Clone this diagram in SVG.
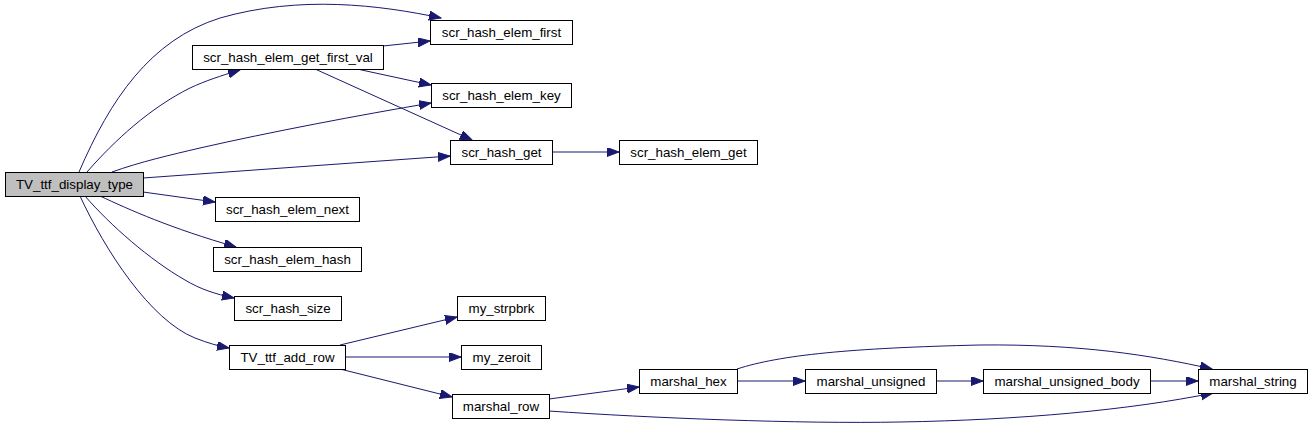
<svg xmlns="http://www.w3.org/2000/svg" width="1312" height="428" viewBox="0 0 1312 428">
<style>
.n rect{fill:#ffffff;stroke:#000000;stroke-width:1}
.n.main rect{fill:#bfbfbf}
.n text{font-family:"Liberation Sans",Helvetica,Arial,sans-serif;font-size:13.33px;fill:#000000;text-anchor:middle}
.e path{fill:none;stroke:#191970;stroke-width:1;marker-end:url(#ah)}
</style>
<defs>
<marker id="ah" markerUnits="userSpaceOnUse" markerWidth="14" markerHeight="10" refX="12" refY="4.5" orient="auto">
<path d="M0,0 L12,4.5 L0,9 z" fill="#191970" stroke="#191970" stroke-width="1"/>
</marker>
</defs>
<rect width="1312" height="428" fill="#ffffff"/>
<g id="edges" class="e">
<path d="M79,172 C110,100 150,40 220,18 C300,-5 380,5 441,18"/>
<path d="M87,172 C115,140 150,108 190,88 C205,81 220,76 240,70"/>
<path d="M112,172 C140,162 170,155 200,148 C270,132 360,115 431,103"/>
<path d="M143,178 L450,156"/>
<path d="M143,192 L215,202"/>
<path d="M100,196 C130,210 170,228 236,247"/>
<path d="M85,196 C110,225 150,260 185,280 C200,289 215,294 234,298"/>
<path d="M80,196 C105,250 150,320 195,338 C208,343 218,346 229,348"/>
<path d="M383,46 L430,41"/>
<path d="M357,69 L431,85"/>
<path d="M315,69 L472,140"/>
<path d="M552,152 L619,152"/>
<path d="M340,345 L457,317"/>
<path d="M345,357 L461,357"/>
<path d="M340,369 L452,397"/>
<path d="M549,399 L639,387"/>
<path d="M549,411 C650,418 800,424 900,422 C1020,420 1130,410 1213,393"/>
<path d="M737,369 C780,355 850,348 980,345 C1080,344 1150,355 1212,369"/>
<path d="M737,381 L805,381"/>
<path d="M936,381 L983,381"/>
<path d="M1150,381 L1198,381"/>
</g>
<g id="TV_ttf_display_type" class="n main"><rect x="5.5" y="172.5" width="138" height="24"/><text x="74.5" y="189">TV_ttf_display_type</text></g>
<g id="scr_hash_elem_get_first_val" class="n"><rect x="192.5" y="45.5" width="191" height="24"/><text x="288" y="62">scr_hash_elem_get_first_val</text></g>
<g id="scr_hash_elem_first" class="n"><rect x="430.5" y="20.5" width="142" height="24"/><text x="501.5" y="37">scr_hash_elem_first</text></g>
<g id="scr_hash_elem_key" class="n"><rect x="431.5" y="83.5" width="140" height="24"/><text x="501.5" y="100">scr_hash_elem_key</text></g>
<g id="scr_hash_get" class="n"><rect x="450.5" y="140.5" width="102" height="24"/><text x="501.5" y="157">scr_hash_get</text></g>
<g id="scr_hash_elem_get" class="n"><rect x="619.5" y="140.5" width="138" height="24"/><text x="688.5" y="157">scr_hash_elem_get</text></g>
<g id="scr_hash_elem_next" class="n"><rect x="215.5" y="197.5" width="144" height="24"/><text x="287.5" y="214">scr_hash_elem_next</text></g>
<g id="scr_hash_elem_hash" class="n"><rect x="213.5" y="247.5" width="148" height="24"/><text x="287.5" y="264">scr_hash_elem_hash</text></g>
<g id="scr_hash_size" class="n"><rect x="234.5" y="296.5" width="107" height="24"/><text x="288" y="313">scr_hash_size</text></g>
<g id="TV_ttf_add_row" class="n"><rect x="229.5" y="345.5" width="116" height="24"/><text x="287.5" y="362">TV_ttf_add_row</text></g>
<g id="my_strpbrk" class="n"><rect x="457.5" y="296.5" width="88" height="24"/><text x="501.5" y="313">my_strpbrk</text></g>
<g id="my_zeroit" class="n"><rect x="461.5" y="345.5" width="80" height="24"/><text x="501.5" y="362">my_zeroit</text></g>
<g id="marshal_row" class="n"><rect x="452.5" y="394.5" width="97" height="24"/><text x="501" y="411">marshal_row</text></g>
<g id="marshal_hex" class="n"><rect x="639.5" y="369.5" width="98" height="24"/><text x="688.5" y="386">marshal_hex</text></g>
<g id="marshal_unsigned" class="n"><rect x="805.5" y="369.5" width="131" height="24"/><text x="871" y="386">marshal_unsigned</text></g>
<g id="marshal_unsigned_body" class="n"><rect x="983.5" y="369.5" width="167" height="24"/><text x="1067" y="386">marshal_unsigned_body</text></g>
<g id="marshal_string" class="n"><rect x="1198.5" y="369.5" width="109" height="24"/><text x="1253" y="386">marshal_string</text></g>
</svg>
